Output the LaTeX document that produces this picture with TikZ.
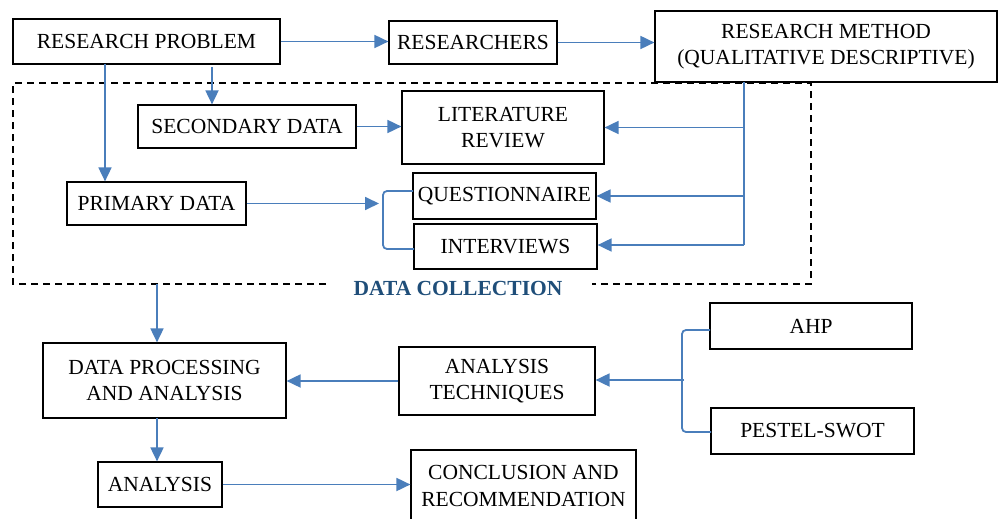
\documentclass[tikz,border=0pt]{standalone}
\usepackage{fontspec}
\setmainfont{Liberation Serif}
\usetikzlibrary{arrows.meta}
\definecolor{lineblue}{RGB}{74,126,187}
\definecolor{labelblue}{RGB}{31,78,121}
\begin{document}
\begin{tikzpicture}[x=1pt,y=-1pt,
  box/.style={draw=black,line width=1.2pt,inner sep=0pt,align=center,
    font=\fontsize{21.5}{26.5}\selectfont},
  arr/.style={draw=lineblue,line width=1.8pt,-{Triangle[length=14pt,width=13pt]}},
  ln/.style={draw=lineblue,line width=1.8pt},
  brk/.style={draw=lineblue,line width=1.8pt,rounded corners=4pt},
  dbox/.style={draw=black,line width=1.6pt,dash pattern=on 7pt off 5pt}]
\useasboundingbox (0,0) rectangle (998,519);
% nodes
\node[box,minimum width=267pt,minimum height=45pt] (rp) at (146.5,41.5) {RESEARCH PROBLEM};
\node[box,minimum width=168pt,minimum height=43pt] (rs) at (473,42.5) {RESEARCHERS};
\node[box,minimum width=342pt,minimum height=71pt] (rm) at (826,46.5) {RESEARCH METHOD\\(QUALITATIVE DESCRIPTIVE)};
\node[box,minimum width=218pt,minimum height=43pt] (sd) at (247,126.5) {SECONDARY DATA};
\node[box,minimum width=202pt,minimum height=73pt] (lr) at (503,127.5) {LITERATURE\\REVIEW};
\node[box,minimum width=179pt,minimum height=43pt] (pd) at (156.5,203.5) {PRIMARY DATA};
\node[box,minimum width=183pt,minimum height=46pt] (q) at (504.5,196) {QUESTIONNAIRE};
\node[box,minimum width=183pt,minimum height=45pt] (iv) at (505.5,246.5) {INTERVIEWS};
\node[box,minimum width=243pt,minimum height=75pt] (dp) at (164.5,380.5) {DATA PROCESSING\\AND ANALYSIS};
\node[box,minimum width=196pt,minimum height=68pt] (at) at (497,381) {ANALYSIS\\TECHNIQUES};
\node[box,minimum width=202pt,minimum height=46pt] (ahp) at (811,326) {AHP};
\node[box,minimum width=203pt,minimum height=46pt] (ps) at (812.5,431) {PESTEL-SWOT};
\node[box,minimum width=124pt,minimum height=45pt] (an) at (160,484.5) {ANALYSIS};
\node[box,minimum width=225pt,minimum height=72pt] (cr) at (523.5,486) {CONCLUSION AND\\RECOMMENDATION};
% dashed data collection frame
\coordinate (dTL) at (13,83);
\coordinate (dTR) at (811,83);
\coordinate (dBR) at (811,284);
\coordinate (dBL) at (13,284);
\coordinate (gapL) at (326,284);
\coordinate (gapR) at (592,284);
\draw[dbox] (gapL) -- (dBL) -- (dTL) -- (dTR) -- (dBR) -- (gapR);
\node[font=\bfseries\fontsize{21.5}{25}\selectfont,text=labelblue,inner sep=0pt] (dc) at (458,288) {DATA COLLECTION};
% connectors top row
\draw[arr] (rp.east) -- (rp.east -| rs.west);
\draw[arr] (rs.east) -- (rs.east -| rm.west);
\coordinate (rpL) at (105,64);
\draw[arr] (rpL) -- (rpL |- pd.north);
\coordinate (rpR) at (212,67);
\draw[arr] (rpR) -- (rpR |- sd.north);
\draw[arr] (sd.east) -- (sd.east -| lr.west);
% research method distribution line
\coordinate (rmS) at (744,82);
\coordinate (rmE) at (744,245);
\draw[ln] (rmS) -- (rmE);
\draw[arr] (rmS |- lr.east) -- (lr.east);
\draw[arr] (rmS |- q.east) -- (q.east);
\draw[arr] (rmE) -- (rmE -| iv.east);
% primary data bracket
\coordinate (b1) at (379,206);
\draw[arr] (pd.east) -- (pd.east -| b1);
\coordinate (bq) at (413,191);
\coordinate (bi) at (414,249);
\draw[brk] (bq) -- (383,191) -- (383,249) -- (bi);
% data collection to processing
\coordinate (dcB) at (157,284);
\draw[arr] (dcB) -- (dcB |- dp.north);
\draw[arr] (at.west) -- (at.west -| dp.east);
% AHP / PESTEL bracket
\coordinate (ba) at (710,330);
\coordinate (bp) at (711,432);
\draw[brk] (ba) -- (682,330) -- (682,432) -- (bp);
\coordinate (bm) at (684,380);
\draw[arr] (bm) -- (bm -| at.east);
% lower chain
\coordinate (dpB) at (157,418);
\draw[arr] (dpB) -- (dpB |- an.north);
\draw[arr] (an.east) -- (an.east -| cr.west);
\end{tikzpicture}
\end{document}
